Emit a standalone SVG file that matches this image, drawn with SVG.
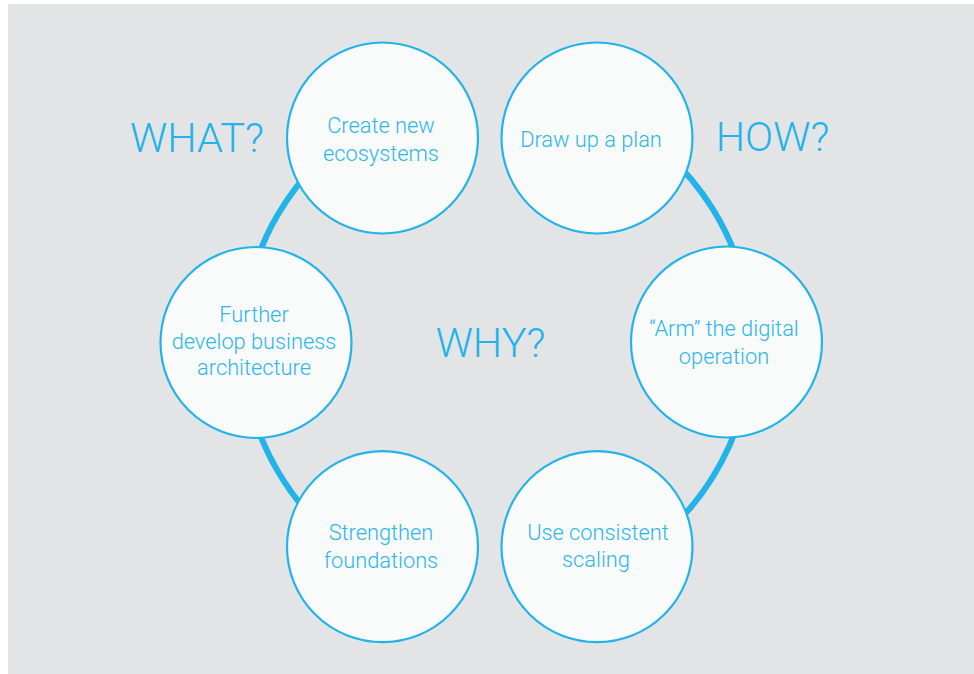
<svg xmlns="http://www.w3.org/2000/svg" width="974" height="674" viewBox="0 0 974 674">
  <style>
    .bg { fill: #e3e4e6; }
    .ring { fill: none; stroke: #22b4e9; stroke-width: 6; }
    .node { fill: #f9fbfb; stroke: #22b4e9; stroke-width: 2.2; }
    .label { font-family: Roboto, "Liberation Sans", sans-serif; font-weight: 300; font-size: 21.8px; fill: #2cb6ea; text-anchor: middle; }
    .heading { font-family: Roboto, "Liberation Sans", sans-serif; font-weight: 300; font-size: 41.5px; fill: #22b4e9; text-anchor: middle; }
  </style>

  <rect class="bg" x="8" y="4" width="966" height="670"/>

  <!-- ring segments joining the circles -->
  <g id="connectors">
    <path class="ring" d="M 373 121.3 A 254 254 0 0 0 243 343"/>
    <path class="ring" d="M 243 343 A 254 254 0 0 0 372.7 564.5"/>
    <path class="ring" d="M 608.3 114.7 A 254 254 0 0 1 751 343"/>
    <path class="ring" d="M 751 343 A 254 254 0 0 1 608.8 571.1"/>
  </g>

  <g id="node-create">
    <circle class="node" cx="382.5" cy="138" r="95.5"/>
    <text class="label" x="381" y="133">Create new</text>
    <text class="label" x="381" y="161">ecosystems</text>
  </g>

  <g id="node-plan">
    <circle class="node" cx="597" cy="138" r="95.5"/>
    <text class="label" x="591" y="147">Draw up a plan</text>
  </g>

  <g id="node-arm">
    <circle class="node" cx="726.5" cy="342" r="95.5"/>
    <text class="label" x="724" y="336">“Arm” the digital</text>
    <text class="label" x="724" y="364">operation</text>
  </g>

  <g id="node-scaling">
    <circle class="node" cx="597" cy="546.7" r="95.5"/>
    <text class="label" x="598" y="540">Use consistent</text>
    <text class="label" x="596" y="567">scaling</text>
  </g>

  <g id="node-foundations">
    <circle class="node" cx="382.5" cy="546.7" r="95.5"/>
    <text class="label" x="381" y="540">Strengthen</text>
    <text class="label" x="381" y="568">foundations</text>
  </g>

  <g id="node-architecture">
    <circle class="node" cx="256" cy="342.5" r="95.5"/>
    <text class="label" x="254" y="322">Further</text>
    <text class="label" x="254" y="348.5">develop business</text>
    <text class="label" x="254" y="375">architecture</text>
  </g>

  <g id="headings">
    <text class="heading" x="197" y="152">WHAT?</text>
    <text class="heading" x="772.5" y="151">HOW?</text>
    <text class="heading" x="490.5" y="357">WHY?</text>
  </g>
</svg>
